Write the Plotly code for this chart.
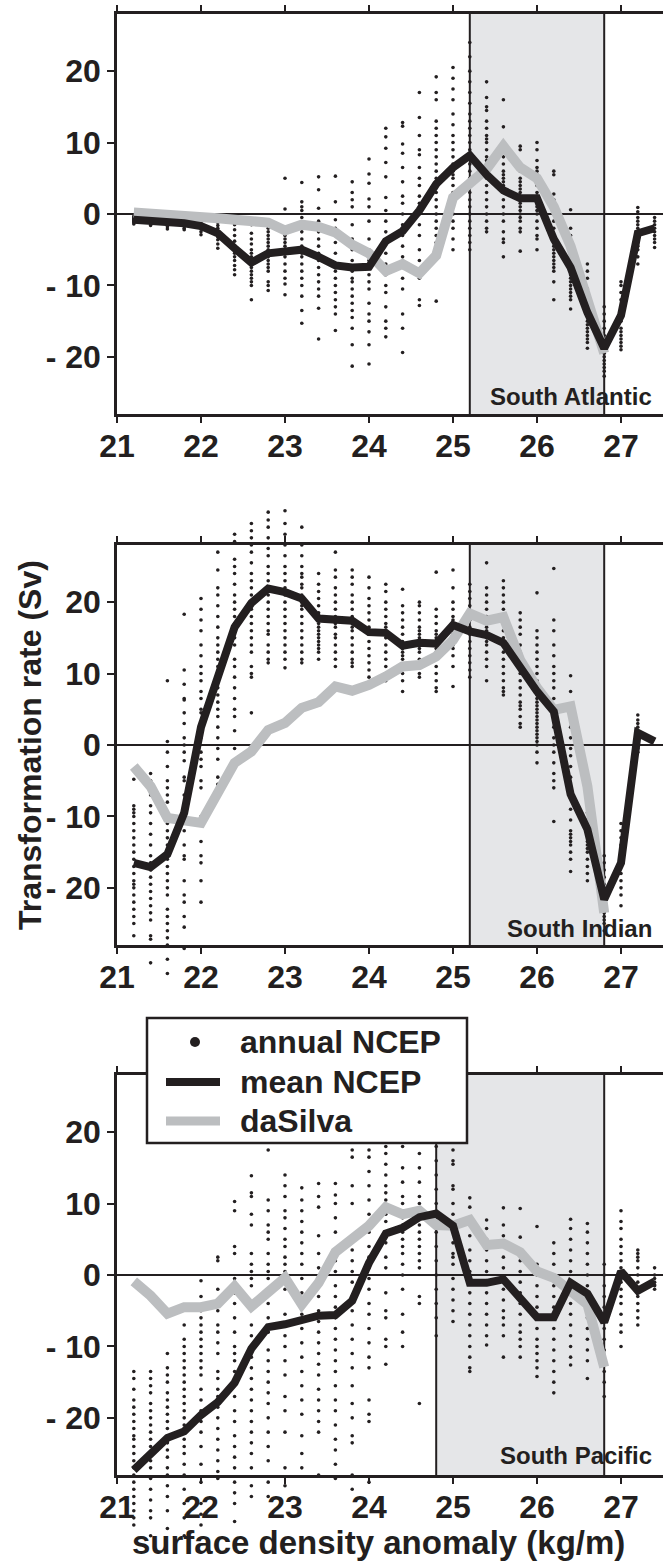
import plotly.graph_objects as go

W, H = 663, 1562

# ---------------- data ----------------
x_dens = [21.2, 21.4, 21.6, 21.8, 22.0, 22.2, 22.4, 22.6, 22.8, 23.0, 23.2,
          23.4, 23.6, 23.8, 24.0, 24.2, 24.4, 24.6, 24.8, 25.0, 25.2, 25.4,
          25.6, 25.8, 26.0, 26.2, 26.4, 26.6, 26.8, 27.0, 27.2, 27.4]
x_dasilva = x_dens[:29]

x_ticks = [21, 22, 23, 24, 25, 26, 27]
y_ticks = [-20, -10, 0, 10, 20]
y_ticktext = ["- 20", "- 10", "0", "10", "20"]

panel_names = ["South Atlantic", "South Indian", "South Pacific"]
box_ranges = [(25.2, 26.8), (25.2, 26.8), (24.8, 26.8)]
legend_names = ["annual NCEP", "mean NCEP", "daSilva"]

# South Atlantic
atl_mean = [-0.8, -0.9, -1.1, -1.3, -1.7, -2.7, -4.8, -6.8, -5.5, -5.2, -5.0,
            -6.0, -7.2, -7.5, -7.4, -3.8, -2.4, 0.5, 4.2, 6.5, 8.2, 5.5,
            3.3, 2.2, 2.2, -3.5, -7.5, -13.8, -18.8, -14.2, -2.7, -2.0]
atl_dasilva = [0.2, 0.1, -0.1, -0.2, -0.4, -0.6, -0.8, -1.0, -1.2, -2.3, -1.5,
               -1.8, -2.6, -4.3, -5.5, -8.0, -7.0, -8.3, -5.8, 2.3, 4.2, 6.3,
               9.5, 6.5, 5.0, 1.0, -4.5, -12.0, -19.5]
atl_annual = [
    [-0.3, -0.5, -0.6, -0.7, -0.8, -0.9, -1.0, -1.1, -1.2, -1.4],
    [-0.3, -0.5, -0.7, -0.8, -0.9, -1.0, -1.2, -1.4, -1.6],
    [-0.4, -0.6, -0.8, -1.0, -1.1, -1.3, -1.5, -1.8, -2.1],
    [-0.5, -0.7, -0.9, -1.1, -1.3, -1.5, -1.7, -2.0, -2.2],
    [-0.4, -0.8, -1.1, -1.4, -1.6, -1.8, -2.1, -2.5, -2.9],
    [-0.8, -1.2, -1.6, -2.0, -2.4, -2.8, -3.2, -3.6, -4.2, -4.8],
    [-0.9, -1.5, -2.2, -3.0, -3.8, -4.5, -5.0, -5.5, -6.0, -6.5, -7.2, -7.8, -8.5],
    [-1.5, -2.7, -3.5, -4.2, -5.0, -5.5, -6.0, -6.5, -7.0, -7.5, -8.0, -8.5, -9.0, -9.5, -10.0, -12.0],
    [-1.0, -1.5, -2.0, -2.5, -3.0, -3.5, -4.0, -4.5, -5.0, -5.5, -6.0, -6.5, -7.0, -7.5, -8.0, -9.5, -10.0, -10.7],
    [5.0, 0.7, -2.0, -2.5, -3.0, -3.5, -4.0, -4.5, -5.0, -5.5, -6.0, -7.0, -8.0, -9.0, -9.8, -11.3],
    [4.4, 1.7, 1.0, 0.5, -0.5, -1.5, -2.5, -3.5, -4.5, -5.0, -5.5, -6.0, -7.0, -8.0, -9.0, -10.0, -11.5, -13.5, -15.3],
    [5.2, 3.4, 0.8, -1.0, -1.8, -2.5, -3.5, -4.5, -5.5, -6.5, -7.5, -8.5, -9.5, -10.5, -11.5, -13.2, -17.5],
    [5.3, 1.7, -0.8, -2.0, -3.0, -4.0, -5.5, -7.0, -8.0, -9.0, -10.0, -11.0, -12.0, -13.0, -14.0, -16.3],
    [4.5, 3.0, 2.0, 1.0, -1.5, -3.5, -5.0, -6.5, -8.0, -9.0, -9.5, -10.5, -11.5, -12.5, -13.5, -14.5, -16.0, -18.3, -21.3],
    [7.7, 5.6, 4.3, 2.1, 1.0, -1.0, -3.5, -5.0, -6.5, -7.5, -8.5, -9.5, -10.5, -12.5, -14.0, -15.0, -16.5, -18.3, -21.0],
    [12.0, 10.8, 9.2, 7.2, 5.2, 2.3, 0.5, -1.0, -2.5, -4.0, -5.5, -7.0, -8.5, -10.0, -11.0, -13.0, -15.0, -16.0, -17.2],
    [12.8, 12.3, 9.8, 8.5, 6.5, 4.5, 2.5, 1.5, 0.0, -1.5, -3.0, -4.5, -6.0, -7.5, -9.0, -10.5, -14.0, -16.0, -19.4],
    [17.0, 13.5, 11.0, 9.0, 8.3, 6.5, 5.0, 4.0, 2.5, 1.5, 0.0, -1.5, -3.0, -5.0, -6.5, -8.0, -9.0, -12.0, -12.8],
    [19.2, 17.0, 16.0, 13.0, 12.0, 11.0, 10.0, 9.0, 8.0, 7.0, 6.0, 5.0, 4.0, 3.0, 2.0, 1.0, 0.0, -1.0, -2.0, -3.0, -4.0, -6.0, -12.2],
    [20.5, 19.0, 17.5, 16.0, 14.0, 12.5, 11.0, 10.0, 9.0, 8.0, 7.0, 6.5, 6.0, 5.5, 5.0, 4.0, 3.0, 2.0, 1.0, 0.0, -1.0, -2.0, -3.5, -5.0],
    [24.0, 22.0, 20.0, 18.5, 17.0, 15.5, 14.0, 13.0, 12.0, 11.0, 10.0, 9.0, 8.0, 7.0, 6.0, 5.0, 4.0, 3.0, 2.0, 1.0, 0.0, -1.0, -2.0, -3.0, -4.0, -5.0],
    [18.5, 16.3, 15.0, 14.5, 13.0, 12.0, 11.0, 10.5, 10.0, 9.0, 8.0, 7.5, 7.0, 6.0, 5.5, 5.0, 4.0, 3.0, 2.0, 1.0, 0.0, -1.0, -2.0, -2.5],
    [16.0, 12.2, 10.0, 9.0, 8.0, 7.0, 6.0, 5.5, 5.0, 4.5, 4.0, 3.5, 3.0, 2.0, 1.0, 0.0, -1.0, -2.5, -3.5, -4.0, -6.0],
    [9.5, 9.0, 7.0, 6.0, 5.0, 4.5, 4.0, 3.5, 3.0, 2.5, 2.0, 1.5, 1.0, 0.5, 0.0, -0.5, -1.0, -2.0, -2.5, -5.2],
    [10.0, 9.0, 7.5, 6.5, 6.0, 5.5, 5.0, 4.0, 3.0, 2.5, 2.0, 1.5, 1.0, 0.5, 0.0, -1.0, -2.0, -3.0, -3.5, -5.0],
    [6.0, 5.5, 2.8, 2.0, 1.0, 0.0, -1.0, -2.0, -3.0, -3.5, -4.0, -4.5, -5.0, -5.5, -6.0, -6.5, -7.0, -7.5, -8.0, -9.5, -12.0],
    [0.6, -2.0, -3.0, -5.0, -6.0, -7.0, -8.0, -8.5, -9.0, -9.5, -10.0, -10.5, -11.0, -11.5, -12.0, -13.3],
    [-7.0, -8.0, -9.0, -10.5, -12.0, -13.0, -14.0, -15.0, -15.5, -16.0, -16.5, -17.0, -17.5, -18.0, -18.8],
    [-13.0, -14.0, -15.0, -16.0, -17.0, -18.0, -18.5, -19.0, -19.5, -20.0, -20.5, -21.0, -21.5, -22.0, -22.7],
    [-9.5, -10.0, -11.0, -12.0, -13.0, -14.0, -15.0, -16.0, -16.5, -17.0, -17.5, -18.0, -18.5, -19.0],
    [0.9, 0.3, -0.5, -1.0, -1.5, -2.0, -2.5, -3.0, -3.5, -4.0, -4.5, -5.0, -6.0, -7.0],
    [-0.5, -1.0, -1.5, -2.0, -2.5, -3.0, -3.5, -4.0, -4.7],
]

# South Indian
ind_mean = [-16.5, -17.1, -15.3, -9.5, 2.5, 9.5, 16.5, 19.9, 21.9, 21.4, 20.5,
            17.7, 17.5, 17.4, 15.8, 15.7, 13.9, 14.3, 14.2, 16.8, 15.9, 15.4,
            14.3, 10.8, 7.5, 4.7, -6.9, -11.8, -21.6, -16.5, 1.7, 0.5]
ind_dasilva = [-3.0, -5.8, -10.2, -10.7, -10.9, -6.7, -2.5, -0.9, 2.1, 3.1, 5.2,
               6.0, 8.2, 7.6, 8.4, 9.6, 11.0, 11.2, 12.4, 14.7, 18.4, 17.4,
               17.9, 11.9, 8.0, 4.9, 5.4, -5.8, -23.5]
ind_annual = [
    [-4.8, -8.5, -9.0, -9.5, -10.0, -11.0, -12.0, -13.0, -14.0, -15.0, -16.0, -17.0, -18.0, -19.0, -19.5, -20.0, -21.0, -22.0, -23.0, -24.0, -25.0, -26.7],
    [-4.0, -5.0, -6.0, -7.0, -8.5, -9.5, -11.0, -12.5, -14.0, -15.5, -16.5, -17.5, -18.5, -19.5, -20.5, -21.5, -22.5, -23.5, -24.5, -26.7, -27.2, -30.5],
    [9.0, 0.5, -1.0, -3.0, -5.0, -6.0, -7.0, -8.0, -10.0, -11.0, -12.0, -13.0, -14.0, -15.0, -16.0, -17.0, -18.0, -19.0, -20.0, -21.0, -23.0, -24.0, -25.0, -26.0, -27.0, -28.0, -30.0, -32.0],
    [18.3, 10.5, 8.5, 6.5, 6.3, 4.5, 3.0, 1.0, 0.0, -1.0, -2.2, -4.5, -5.0, -7.0, -9.0, -10.0, -12.0, -14.0, -15.5, -16.0, -19.0, -21.0, -22.0, -24.0, -25.5, -28.5],
    [20.5, 19.0, 17.5, 16.0, 14.0, 12.5, 11.0, 10.0, 9.0, 7.5, 6.5, 5.0, 4.5, 3.0, 2.0, 1.0, -1.0, -2.0, -3.0, -5.0, -6.0, -10.0, -10.5, -13.5, -15.5, -16.5, -19.0, -22.0],
    [27.0, 24.5, 22.0, 21.0, 19.5, 18.0, 16.5, 15.0, 14.0, 13.0, 12.0, 11.0, 10.0, 9.0, 8.0, 7.0, 6.0, 5.0, 4.0, 2.5, 1.0, -0.5, -2.0, -4.5, -5.5],
    [29.5, 28.5, 26.0, 25.0, 24.0, 22.5, 21.0, 20.0, 19.0, 18.0, 17.0, 16.0, 15.0, 14.0, 12.0, 11.0, 9.5, 8.0, 6.5, 5.0, 4.0, 2.0, -0.5],
    [31.0, 30.0, 29.0, 28.0, 27.0, 25.5, 24.0, 23.0, 22.0, 21.0, 20.0, 19.0, 18.0, 17.0, 16.0, 15.0, 14.0, 13.0, 11.0, 10.0, 9.5, 4.5],
    [32.6, 31.5, 30.5, 29.0, 27.5, 26.5, 25.0, 24.0, 23.0, 22.0, 21.0, 20.0, 19.0, 18.0, 17.0, 16.0, 15.5, 14.0, 13.0, 12.0, 11.5],
    [32.8, 31.0, 29.5, 28.0, 26.5, 25.0, 24.0, 23.0, 22.0, 21.0, 20.0, 19.0, 18.0, 17.0, 16.0, 15.0, 14.0, 13.0, 12.0, 10.8],
    [30.5, 28.0, 26.5, 25.0, 24.0, 23.5, 22.5, 22.0, 21.0, 20.0, 19.5, 19.0, 18.0, 17.0, 16.0, 15.0, 14.0, 13.0, 12.0, 11.5],
    [24.0, 22.5, 21.5, 20.5, 19.5, 18.5, 17.5, 17.0, 16.5, 16.0, 15.5, 15.0, 14.5, 14.0, 13.5, 13.0, 12.0],
    [27.0, 24.5, 23.5, 22.0, 21.0, 20.0, 19.0, 18.0, 17.5, 17.0, 16.5, 15.5, 15.0, 14.0, 13.0, 12.0, 11.0],
    [24.5, 23.5, 22.5, 21.0, 20.0, 19.0, 18.0, 17.5, 17.0, 16.5, 16.0, 15.0, 14.0, 13.0, 12.0, 11.5, 11.0],
    [23.5, 22.0, 20.5, 19.5, 18.5, 17.5, 16.5, 15.5, 14.5, 13.5, 12.5, 11.5, 10.5, 9.5, 8.5],
    [22.5, 21.5, 20.0, 19.0, 18.0, 17.0, 16.5, 15.5, 15.0, 14.0, 13.0, 12.0, 11.0, 10.0, 9.0],
    [21.8, 19.5, 18.5, 17.5, 16.5, 15.5, 14.5, 13.5, 13.0, 12.5, 12.0, 11.0, 10.0, 9.0, 7.5],
    [20.0, 19.5, 18.5, 17.5, 16.5, 16.0, 15.5, 15.0, 14.5, 14.0, 13.5, 13.0, 12.0, 11.0, 10.0, 9.5],
    [24.2, 19.0, 18.0, 17.0, 16.0, 15.5, 15.0, 14.5, 14.0, 13.5, 13.0, 12.0, 11.0, 10.0, 9.0, 8.0, 7.5],
    [24.5, 22.0, 20.0, 19.0, 18.0, 17.5, 17.0, 16.5, 16.0, 15.5, 15.0, 14.5, 14.0, 13.5, 12.5, 11.0, 8.2],
    [22.5, 21.5, 20.5, 19.5, 18.5, 17.5, 16.5, 15.5, 14.5, 13.5, 12.5, 11.5, 10.5, 9.5],
    [25.5, 22.0, 21.0, 20.0, 19.0, 18.0, 17.0, 16.5, 16.0, 15.5, 15.0, 14.5, 14.0, 13.0, 12.0, 11.0, 9.0],
    [23.0, 22.0, 21.0, 20.0, 19.0, 18.0, 17.0, 16.0, 15.0, 14.0, 13.0, 12.0, 11.0, 10.0, 9.0, 8.0, 7.5, 7.0],
    [18.5, 17.5, 16.5, 15.5, 14.0, 13.0, 12.0, 11.0, 10.0, 9.0, 8.0, 7.0, 6.0, 5.5, 5.0, 4.0, 3.0, 2.5],
    [21.3, 16.0, 15.0, 14.0, 13.0, 12.0, 11.0, 10.0, 9.0, 8.5, 8.0, 7.5, 7.0, 6.5, 6.0, 5.5, 5.0, 4.5, 4.0, 3.5, 3.0, 2.5, 2.0, 1.5, 1.0, 0.5, 0.0, -1.0, -2.5],
    [24.7, 17.5, 16.0, 14.0, 12.5, 11.0, 10.0, 9.0, 8.0, 6.5, 5.0, 3.5, 2.5, 1.0, 0.0, -1.0, -2.5, -4.0, -5.0, -6.0, -10.7],
    [9.7, 7.5, 2.5, 1.0, -0.5, -1.5, -3.0, -4.5, -6.0, -7.5, -9.0, -10.5, -12.0, -12.5, -13.0, -13.5, -14.0, -15.0, -16.0, -17.7],
    [-5.8, -6.5, -7.5, -8.5, -9.5, -10.5, -11.5, -12.5, -13.5, -14.0, -14.5, -15.0, -16.0, -17.0, -18.0, -19.0],
    [-15.5, -16.5, -17.5, -18.5, -19.5, -20.5, -21.0, -21.5, -22.0, -22.5, -23.0, -23.5, -24.0, -24.5, -25.0, -26.0],
    [-11.0, -12.0, -13.0, -14.0, -15.0, -16.0, -17.0, -18.0, -19.0, -20.0, -21.0, -22.5],
    [4.2, 3.5, 3.0, 2.5, 2.0, 1.5, 1.0, 0.5, 0.0, -0.5, -1.0],
    [],
]

# South Pacific
pac_mean = [-27.3, -25.1, -22.8, -21.9, -19.6, -17.8, -15.1, -10.3, -7.3, -6.9, -6.2,
            -5.7, -5.6, -3.6, 1.7, 5.8, 6.6, 8.1, 8.6, 6.9, -1.1, -1.1,
            -0.6, -3.1, -5.9, -5.9, -1.1, -2.6, -6.6, 0.5, -2.2, -0.9]
pac_dasilva = [-0.9, -2.9, -5.4, -4.5, -4.5, -4.0, -1.6, -4.4, -2.4, -0.4, -4.1,
               -1.1, 3.2, 5.0, 6.9, 9.5, 8.5, 9.0, 7.0, 6.9, 7.7, 4.2,
               4.4, 3.2, 0.5, -0.4, -2.1, -4.1, -12.9]
pac_annual = [
    [-13.5, -14.5, -16.0, -17.5, -18.5, -19.5, -20.5, -21.5, -22.5, -23.0, -24.0, -25.0, -26.0, -27.0, -28.0, -29.0, -30.0, -31.0, -32.0, -33.0, -34.0, -35.0],
    [-13.5, -14.5, -15.5, -16.5, -18.0, -19.0, -20.0, -21.0, -22.0, -23.0, -24.0, -25.0, -26.0, -27.0, -28.5, -30.0, -31.5, -33.0, -34.0, -36.5],
    [-11.0, -13.0, -14.0, -15.0, -16.5, -17.5, -18.5, -19.5, -20.5, -21.5, -22.5, -23.5, -24.5, -25.5, -27.0, -28.0, -29.5, -31.0, -33.0, -35.5],
    [-7.0, -9.0, -10.0, -11.0, -12.0, -13.0, -14.0, -15.0, -16.0, -17.0, -18.0, -19.0, -20.0, -21.0, -22.0, -23.0, -24.0, -25.0, -26.5, -28.0, -30.0, -32.0, -34.0, -36.5],
    [-0.8, -3.0, -5.0, -6.0, -7.0, -8.0, -9.0, -10.0, -11.0, -12.0, -13.0, -14.0, -16.0, -17.5, -19.0, -20.5, -22.0, -24.0, -26.5, -29.0, -32.0, -33.5, -35.0],
    [2.5, 2.0, -2.0, -4.0, -5.0, -7.0, -8.0, -9.5, -11.0, -13.5, -14.5, -16.0, -17.0, -18.5, -20.0, -21.5, -23.0, -24.5, -26.0, -27.5, -28.5],
    [10.3, 9.0, 4.0, 3.0, -0.5, -1.0, -2.5, -4.0, -6.0, -8.0, -10.0, -11.0, -12.0, -13.5, -15.0, -17.0, -19.0, -20.5, -22.5, -24.0, -25.5, -27.0, -29.0, -30.5, -32.0, -34.5],
    [13.9, 11.5, 11.0, 8.5, 7.0, 3.0, 1.5, 0.5, -0.5, -1.5, -4.5, -7.0, -8.5, -10.0, -11.5, -13.0, -14.5, -16.0, -17.5, -19.0, -20.5, -22.0, -23.5, -25.0, -27.0, -29.5, -31.0],
    [17.5, 10.5, 9.0, 7.0, 6.0, 5.0, 3.0, 1.5, 0.5, -0.5, -2.0, -4.0, -6.0, -8.0, -10.5, -12.0, -13.5, -15.0, -16.5, -18.0, -20.0, -22.0, -24.0, -26.0, -29.0, -31.0],
    [14.0, 12.5, 11.0, 9.0, 8.0, 6.5, 5.0, 4.0, 2.5, 1.5, 0.5, -0.5, -2.0, -5.5, -8.5, -10.0, -12.0, -14.0, -17.0, -19.0, -22.0, -27.0, -29.5],
    [12.2, 10.5, 9.0, 7.5, 6.0, 4.5, 3.0, 1.5, -0.5, -2.5, -4.0, -5.5, -7.5, -9.5, -11.5, -13.5, -15.5, -17.5, -19.5, -22.5, -25.0, -27.0],
    [12.8, 11.0, 9.5, 5.5, 3.0, 1.0, -1.5, -3.0, -5.0, -6.5, -8.0, -9.5, -11.0, -12.5, -14.0, -16.0, -17.5, -19.0, -20.5, -22.0, -28.0],
    [12.8, 11.2, 10.0, 8.0, 6.0, 3.5, 2.0, 0.5, -1.5, -3.0, -4.5, -6.0, -7.5, -9.0, -10.5, -12.0, -13.5, -15.5, -17.5, -19.0, -21.0, -23.0, -24.5, -26.5, -28.5],
    [17.5, 16.5, 12.5, 10.0, 5.0, 3.5, 2.0, 0.5, -1.0, -3.0, -5.0, -7.0, -9.0, -11.0, -13.0, -15.5, -18.0, -20.0, -22.5, -23.5, -28.0, -30.0],
    [17.5, 16.5, 14.5, 12.5, 10.5, 8.5, 6.0, 4.0, 2.5, 1.0, -0.5, -2.0, -4.0, -5.5, -7.5, -9.5, -11.5, -13.0, -17.5, -19.5, -20.5, -29.0],
    [20.0, 18.0, 17.0, 15.5, 14.0, 12.5, 11.5, 10.5, 9.5, 8.5, 7.5, 6.0, 4.5, 2.5, 1.0, -2.5, -5.0, -6.0, -9.0, -10.0, -12.5],
    [21.0, 19.0, 18.0, 15.0, 13.0, 11.0, 10.0, 9.0, 8.0, 7.0, 6.0, 5.0, 4.0, 3.0, 1.5, 0.0, -2.0, -5.5, -8.0, -10.0],
    [19.0, 17.0, 15.0, 13.0, 11.0, 10.0, 9.0, 8.0, 7.0, 6.0, 5.0, 4.0, 3.0, 2.0, 1.0, -3.0, -4.0, -18.0],
    [20.0, 18.0, 16.0, 14.0, 12.0, 10.0, 8.0, 6.0, 4.0, 2.0, 0.0, -2.0, -4.0, -6.0, -8.5],
    [17.5, 16.0, 15.5, 12.5, 12.0, 10.0, 8.5, 6.5, 4.5, 3.0, 2.5, 1.5, -0.5, -2.0, -3.5, -5.0, -6.5],
    [10.8, 9.5, 7.5, 5.5, 3.5, 2.0, 0.5, -1.0, -2.5, -4.0, -5.5, -7.0, -8.5, -10.0, -11.5, -13.0, -13.5],
    [7.7, 6.5, 5.0, 3.5, 2.0, 0.5, -1.0, -2.5, -4.0, -5.5, -7.0, -8.5, -9.8],
    [9.4, 7.0, 5.5, 4.0, 2.5, 1.0, -0.5, -2.0, -3.5, -5.0, -6.0, -7.0, -8.5, -11.5],
    [9.3, 5.3, 3.5, 2.0, 0.5, -1.0, -2.5, -4.0, -5.5, -7.0, -8.0, -9.0, -10.0, -11.5],
    [6.8, 1.5, 0.0, -1.5, -3.0, -4.5, -6.0, -7.5, -9.0, -10.0, -11.0, -12.0, -13.0, -14.2],
    [4.5, 3.0, 1.5, 0.0, -1.5, -3.0, -4.5, -6.0, -7.5, -9.0, -10.5, -12.0, -13.5, -15.0, -16.5],
    [7.8, 6.5, 5.0, 3.5, 2.0, 0.5, -1.0, -2.5, -4.0, -5.5, -7.0, -8.5, -10.0, -11.5, -12.6],
    [7.2, 6.0, 4.5, 3.0, 1.5, 0.0, -1.5, -3.0, -4.5, -6.0, -7.5, -9.0, -10.5, -12.0, -14.5],
    [1.5, 0.0, -1.5, -3.0, -4.5, -6.0, -7.5, -9.0, -10.5, -12.0, -13.5, -15.0, -17.0],
    [9.0, 7.5, 6.5, 5.0, 4.0, 3.0, 2.0, 1.0, 0.0, -1.0, -2.0, -3.0, -4.0, -5.5, -7.0, -8.0, -10.0],
    [3.5, 3.0, 2.5, 2.0, 1.0, 0.0, -1.0, -2.0, -3.0, -4.0, -5.0, -6.0, -7.0],
    [1.0, 0.0, -0.5, -1.0, -1.5, -2.0],
]

means = [atl_mean, ind_mean, pac_mean]
dasilvas = [atl_dasilva, ind_dasilva, pac_dasilva]
annuals = [atl_annual, ind_annual, pac_annual]

# ---------------- style / layout ----------------
INK = "#231f20"
GREY = "#bcbec0"
SHADE = "#e5e6e8"
FONT = "Liberation Sans, Arial, Helvetica, sans-serif"
Y_RANGE = (-28, 28)
X_RANGE = (21, 27.5)


def px(xp):
    return xp / W


def py(yp):
    return 1 - yp / H


plot_left = 117
panel_px = [(14, 414), (545, 945), (1075, 1475)]     # frame top / bottom (pixels)
spill_px = [(0, 514), (445, 1045), (975, 1562)]       # extent where dots spill beyond the frame
label_px = [396, 928, 1455]

fig = go.Figure()
shapes = []
annotations = []

for i in range(3):
    xs = "x" if i == 0 else f"x{i + 1}"
    ys = "y" if i == 0 else f"y{i + 1}"
    ss = f"y{i + 4}"           # hidden axis, same scale as ys, for dots beyond the frame
    axkey = "" if i == 0 else str(i + 1)

    top, bot = panel_px[i]
    stop, sbot = spill_px[i]
    unit = (bot - top) / (Y_RANGE[1] - Y_RANGE[0])   # pixels per Sv
    s_range = [Y_RANGE[0] - (sbot - bot) / unit, Y_RANGE[1] + (top - stop) / unit]

    in_x, in_y, out_x, out_y = [], [], [], []
    for xv, col in zip(x_dens, annuals[i]):
        for v in col:
            if Y_RANGE[0] <= v <= Y_RANGE[1]:
                in_x.append(xv)
                in_y.append(v)
            else:
                out_x.append(xv)
                out_y.append(v)

    fig.add_trace(go.Scatter(x=in_x, y=in_y, mode="markers", xaxis=xs, yaxis=ys,
                             marker=dict(size=3.6, color=INK),
                             name=legend_names[0], showlegend=False, hoverinfo="skip"))
    fig.add_trace(go.Scatter(x=x_dasilva, y=dasilvas[i], mode="lines", xaxis=xs, yaxis=ys,
                             name=legend_names[2],
                             line=dict(color=GREY, width=10), showlegend=False))
    fig.add_trace(go.Scatter(x=x_dens, y=means[i], mode="lines", xaxis=xs, yaxis=ys,
                             name=legend_names[1],
                             line=dict(color=INK, width=8), showlegend=False))
    fig.add_trace(go.Scatter(x=out_x, y=out_y, mode="markers", xaxis=xs, yaxis=ss,
                             marker=dict(size=3.6, color=INK),
                             name=legend_names[0], showlegend=False, hoverinfo="skip"))

    fig.update_layout(**{
        f"xaxis{axkey}": dict(
            domain=[px(plot_left), 1], range=list(X_RANGE), anchor=ys,
            tickvals=x_ticks, ticktext=[str(t) for t in x_ticks],
            ticks="outside", ticklen=6, tickwidth=2, tickcolor=INK,
            showline=True, linewidth=2.5, linecolor=INK, mirror="ticks",
            showgrid=False, zeroline=False, automargin=False,
            tickfont=dict(family=FONT, size=32, color=INK, weight="bold"),
            ticklabelstandoff=-4,
        ),
        f"yaxis{axkey}": dict(
            domain=[py(bot), py(top)], range=list(Y_RANGE), anchor=xs,
            tickvals=y_ticks, ticktext=y_ticktext,
            ticks="outside", ticklen=7, tickwidth=2, tickcolor=INK,
            showline=True, linewidth=2.5, linecolor=INK, mirror=True,
            showgrid=False, zeroline=True, zerolinecolor=INK, zerolinewidth=1.6,
            automargin=False,
            tickfont=dict(family=FONT, size=32, color=INK, weight="bold"),
            ticklabelstandoff=0,
        ),
        f"yaxis{i + 4}": dict(
            domain=[py(sbot), py(stop)], range=s_range, anchor="free", position=1,
            visible=False, showgrid=False, zeroline=False, automargin=False,
        ),
    })
    x0, x1 = box_ranges[i]
    shapes.append(dict(type="rect", xref=xs, yref=f"{ys} domain", x0=x0, x1=x1, y0=0, y1=1,
                       fillcolor=SHADE, line=dict(width=0), layer="below"))
    for xv in (x0, x1):
        shapes.append(dict(type="line", xref=xs, yref=f"{ys} domain", x0=xv, x1=xv, y0=0, y1=1,
                           line=dict(color=INK, width=2), layer="below"))
    annotations.append(dict(text=panel_names[i], xref="paper", yref="paper",
                            x=px(654), y=py(label_px[i]), xanchor="right", yanchor="middle",
                            showarrow=False,
                            font=dict(family=FONT, size=24, color=INK, weight="bold")))

# ---- legend box (in the bottom panel, top-left) ----
LEG = dict(x0=147, x1=467, y0=1018, y1=1143)
shapes.append(dict(type="rect", xref="paper", yref="paper",
                   x0=px(LEG["x0"]), x1=px(LEG["x1"]), y0=py(LEG["y1"]), y1=py(LEG["y0"]),
                   fillcolor="white", line=dict(color=INK, width=2.5), layer="above"))
row_y = [1042, 1082, 1121]
shapes.append(dict(type="circle", xref="paper", yref="paper",
                   x0=px(190), x1=px(200), y0=py(row_y[0] + 5), y1=py(row_y[0] - 5),
                   fillcolor=INK, line=dict(width=0), layer="above"))
shapes.append(dict(type="line", xref="paper", yref="paper",
                   x0=px(166), x1=px(220), y0=py(row_y[1]), y1=py(row_y[1]),
                   line=dict(color=INK, width=8), layer="above"))
shapes.append(dict(type="line", xref="paper", yref="paper",
                   x0=px(166), x1=px(220), y0=py(row_y[2]), y1=py(row_y[2]),
                   line=dict(color=GREY, width=9), layer="above"))
for name, yy in zip(legend_names, row_y):
    annotations.append(dict(text=name, xref="paper", yref="paper",
                            x=px(238), y=py(yy), xanchor="left", yanchor="middle",
                            showarrow=False,
                            font=dict(family=FONT, size=32, color=INK, weight="bold")))

annotations.append(dict(text="Transformation rate (Sv)", xref="paper", yref="paper",
                        x=px(30), y=py(745), textangle=-90, showarrow=False,
                        xanchor="center", yanchor="middle",
                        font=dict(family=FONT, size=32, color=INK, weight="bold")))
annotations.append(dict(text="surface density anomaly (kg/m)", xref="paper", yref="paper",
                        x=px(378), y=py(1542), showarrow=False,
                        xanchor="center", yanchor="middle",
                        font=dict(family=FONT, size=33, color=INK, weight="bold")))

fig.update_layout(
    width=W, height=H, autosize=False,
    margin=dict(l=0, r=0, t=0, b=0, pad=0),
    paper_bgcolor="white", plot_bgcolor="rgba(0,0,0,0)",
    shapes=shapes, annotations=annotations,
    showlegend=False,
)

fig.write_html("out.html")
